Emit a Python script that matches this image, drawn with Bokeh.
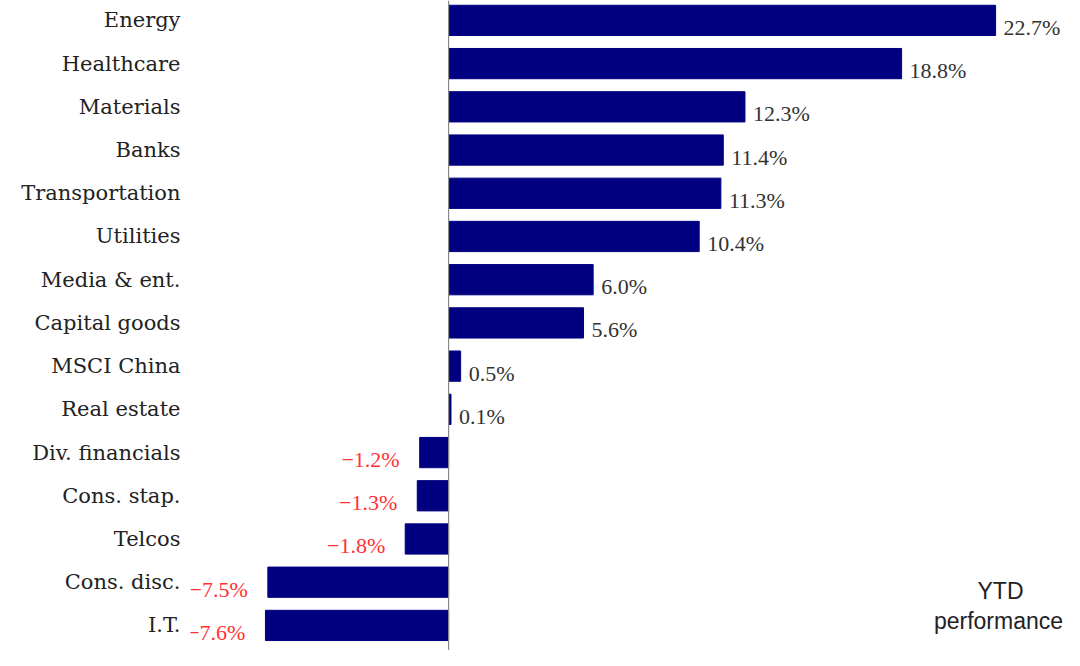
from bokeh.plotting import figure
from bokeh.models import ColumnDataSource, Range1d, FixedTicker, Span, Label
from bokeh.core.properties import value
from bokeh.embed import file_html
from bokeh.resources import INLINE

sectors = ["Energy", "Healthcare", "Materials", "Banks", "Transportation", "Utilities",
           "Media & ent.", "Capital goods", "MSCI China", "Real estate", "Div. financials",
           "Cons. stap.", "Telcos", "Cons. disc.", "I.T."]
ytd = [22.7, 18.8, 12.3, 11.4, 11.3, 10.4, 6.0, 5.6, 0.5, 0.1, -1.2, -1.3, -1.8, -7.5, -7.6]

n = len(sectors)
ypos = [n - 1 - i for i in range(n)]
labels = [f"{v:.1f}%".replace("-", "\u2212") for v in ytd]

src = ColumnDataSource(dict(y=ypos, v=ytd, lab=labels))
pos = ColumnDataSource(dict(y=[y for y, v in zip(ypos, ytd) if v >= 0],
                            v=[v for v in ytd if v >= 0],
                            lab=[l for l, v in zip(labels, ytd) if v >= 0]))
neg = ColumnDataSource(dict(y=[y for y, v in zip(ypos, ytd) if v < 0],
                            v=[v for v in ytd if v < 0],
                            lab=[l for l, v in zip(labels, ytd) if v < 0]))

p = figure(width=1064, height=650, output_backend="svg", toolbar_location=None,
           x_range=Range1d(-10.71, 25.56), y_range=Range1d(-0.58, 14.46),
           min_border_left=190, min_border_right=0, min_border_top=0, min_border_bottom=0)
p.outline_line_color = None
p.grid.visible = False
p.xaxis.visible = False

p.hbar(y="y", right="v", left=0, height=0.7, source=src, fill_color="#000080", line_color="#000080")

p.add_layout(Span(location=0, dimension="height", line_color="#888888", line_width=1.2))

p.text(x="v", y="y", text="lab", source=pos, x_offset=8, y_offset=7,
       text_align="left", text_baseline="middle", text_font=value("Liberation Serif"),
       text_font_size="22px", text_color="#333333")
p.text(x="v", y="y", text="lab", source=neg, x_offset=-20, y_offset=7,
       text_align="right", text_baseline="middle", text_font=value("Liberation Serif"),
       text_font_size="22px", text_color="#ff3333")

ax = p.yaxis[0]
ax.ticker = FixedTicker(ticks=ypos)
ax.major_label_overrides = {y: s for y, s in zip(ypos, sectors)}
ax.axis_line_color = None
ax.major_tick_line_color = None
ax.minor_tick_line_color = None
ax.major_label_standoff = 4
ax.major_label_text_font = "DejaVu Serif"
ax.major_label_text_font_size = "21px"
ax.major_label_text_color = "#222222"

p.add_layout(Label(x=810, y=60, x_units="screen", y_units="screen", text="YTD",
                   text_align="center", text_baseline="middle", text_font="Liberation Sans",
                   text_font_size="23px", text_color="#222222"))
p.add_layout(Label(x=808, y=30, x_units="screen", y_units="screen", text="performance",
                   text_align="center", text_baseline="middle", text_font="Liberation Sans",
                   text_font_size="23px", text_color="#222222"))

open("out.html", "w").write(file_html(p, INLINE))
